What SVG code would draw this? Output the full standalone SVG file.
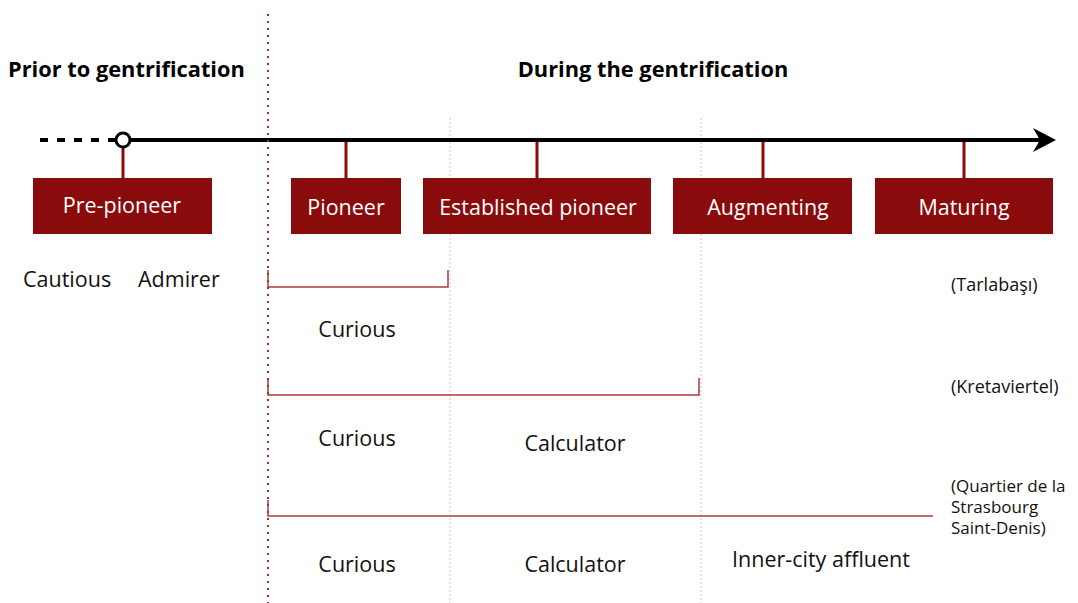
<svg xmlns="http://www.w3.org/2000/svg" width="1078" height="603" viewBox="0 0 1078 603">
<style>
.head{font-family:"Open Sans","Noto Sans",sans-serif;font-weight:bold;font-size:21.8px;fill:#000}
.box{fill:#8a0b0b}
.bt{font-family:"Open Sans","Noto Sans",sans-serif;font-size:21.5px;fill:#fff;text-anchor:middle}
.lbl{font-family:"Open Sans","Noto Sans",sans-serif;font-size:21.5px;fill:#111}
.c{text-anchor:middle}
.sm{font-family:"Open Sans","Noto Sans",sans-serif;font-size:18px;fill:#111}
.sm2{font-family:"Open Sans","Noto Sans",sans-serif;font-size:17px;fill:#111}
.stem{stroke:#8a0b0b;stroke-width:3}
.brk{fill:none;stroke:#b03a3a;stroke-width:1.5}
.grid{stroke:#c8c8c8;stroke-width:1;stroke-dasharray:2 2}
</style>
<g id="gridlines">
<line class="grid" x1="450" y1="118" x2="450" y2="603"/>
<line class="grid" x1="701" y1="118" x2="701" y2="603"/>
</g>
<text class="head" x="8" y="77">Prior to gentrification</text>
<text class="head" x="653" y="77" text-anchor="middle">During the gentrification</text>
<g id="connectors">
<line x1="40" y1="140" x2="115" y2="140" stroke="#000" stroke-width="4" stroke-dasharray="8 9"/>
<path d="M130,140 H1040" stroke="#000" stroke-width="4" fill="none"/>
<path d="M1033,128 L1056,140 L1033,152 L1040,140 Z" fill="#000"/>
<line class="stem" x1="123" y1="147" x2="123" y2="178"/>
<line class="stem" x1="346" y1="142" x2="346" y2="178"/>
<line class="stem" x1="537" y1="142" x2="537" y2="178"/>
<line class="stem" x1="763" y1="142" x2="763" y2="178"/>
<line class="stem" x1="964" y1="142" x2="964" y2="178"/>
<path class="brk" d="M268,270 V287 H448 V270"/>
<path class="brk" d="M268,378 V395 H699 V378"/>
<path class="brk" d="M268,500 V516 H933"/>
<line x1="268" y1="14" x2="268" y2="603" stroke="#a03030" stroke-width="2" stroke-dasharray="2 5"/>
</g>
<circle cx="123" cy="140" r="7" fill="#fff" stroke="#000" stroke-width="3"/>
<g id="pre-pioneer"><rect class="box" x="33" y="178" width="179" height="56"/><text class="bt" x="122" y="213">Pre-pioneer</text></g>
<g id="pioneer"><rect class="box" x="291" y="178" width="110" height="56"/><text class="bt" x="346" y="215">Pioneer</text></g>
<g id="established"><rect class="box" x="423" y="178" width="228" height="56"/><text class="bt" x="538" y="215">Established pioneer</text></g>
<g id="augmenting"><rect class="box" x="673" y="178" width="179" height="56"/><text class="bt" x="768" y="215">Augmenting</text></g>
<g id="maturing"><rect class="box" x="875" y="178" width="178" height="56"/><text class="bt" x="964" y="215">Maturing</text></g>
<g id="labels">
<text class="lbl" x="23" y="287">Cautious</text>
<text class="lbl" x="138" y="287">Admirer</text>
<text class="lbl c" x="357" y="337">Curious</text>
<text class="lbl c" x="357" y="446">Curious</text>
<text class="lbl c" x="575" y="451">Calculator</text>
<text class="lbl c" x="357" y="572">Curious</text>
<text class="lbl c" x="575" y="572">Calculator</text>
<text class="lbl c" x="821" y="567">Inner-city affluent</text>
<text class="sm" x="951" y="291">(Tarlabaşı)</text>
<text class="sm" x="951" y="393">(Kretaviertel)</text>
<text class="sm2" x="951" y="492">(Quartier de la</text>
<text class="sm2" x="951" y="513">Strasbourg</text>
<text class="sm2" x="951" y="534">Saint-Denis)</text>
</g>
</svg>
